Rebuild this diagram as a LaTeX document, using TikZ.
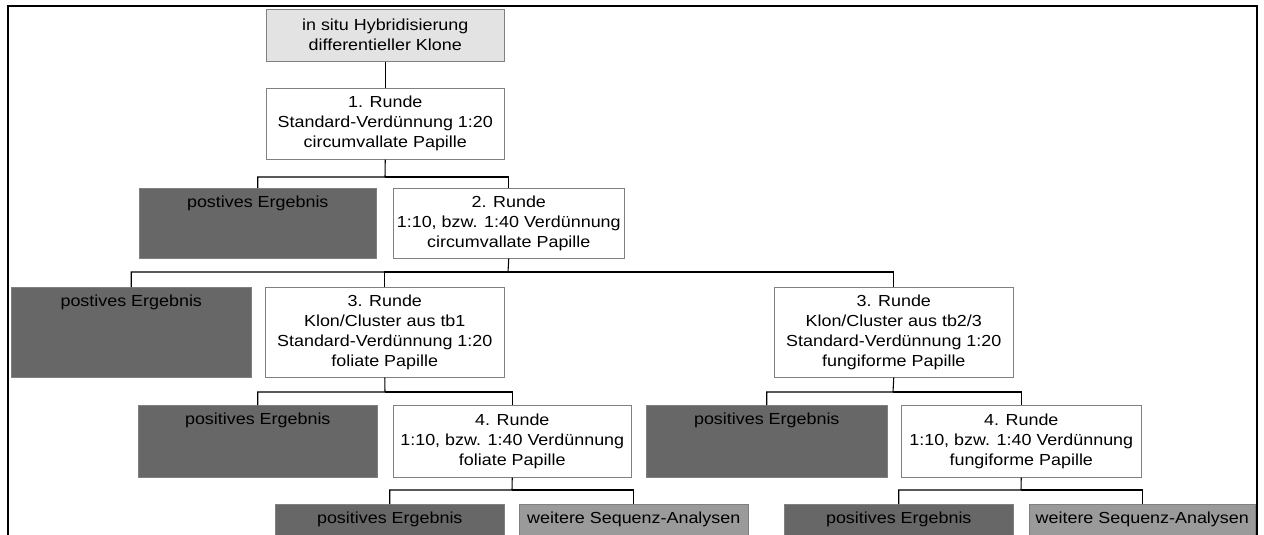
\documentclass[tikz,border=0pt]{standalone}
\usepackage{fontspec}
\newfontfamily\boxfont{Liberation Sans}[FakeStretch=1.12]
\usepackage{tikz}
\definecolor{rim}{HTML}{808080}
\definecolor{startgray}{HTML}{E3E3E3}
\definecolor{posgray}{HTML}{676767}
\definecolor{seqgray}{HTML}{9A9A9A}
\tikzset{
  box/.style={draw=rim,fill=white,anchor=north west,inner xsep=0pt,inner ysep=0pt,align=center,
    font=\boxfont\fontsize{12}{15}\selectfont},
  roundbox/.style={box},
  startbox/.style={box,fill=startgray},
  posbox/.style={box,fill=posgray,text height=14.5pt},
  seqbox/.style={box,fill=seqgray,text height=14.5pt},
  link/.style={draw=black,line width=0.8pt}
}

\begin{document}
\begin{tikzpicture}[x=0.75pt,y=-0.75pt]
        \clip (0,0) rectangle (1264,535);
        \useasboundingbox (0,0) rectangle (1264,535);
        \draw[line width=1.6pt] (8,560) -- (8,6) -- (1257,6) -- (1257,560);

        \node[startbox,minimum width=178.5pt,minimum height=39pt] (start) at (266,9) {in situ Hybridisierung\\differentieller Klone};
        \node[roundbox,minimum width=178.5pt,minimum height=53.25pt] (r1) at (266,88) {1. Runde\\Standard-Verdünnung 1:20\\circumvallate Papille};

        \node[posbox,minimum width=177.75pt,text depth=38pt] (pos1) at (139,188) {postives Ergebnis};
        \node[roundbox,minimum width=173.25pt,minimum height=52.5pt] (r2) at (393,188) {2. Runde\\1:10, bzw. 1:40 Verdünnung\\circumvallate Papille};

        \node[posbox,minimum width=180pt,text depth=53pt] (pos2) at (11,287) {postives Ergebnis};
        \node[roundbox,minimum width=179.25pt,minimum height=67.5pt] (r3a) at (265,287) {3. Runde\\Klon/Cluster aus tb1\\Standard-Verdünnung 1:20\\foliate Papille};
        \node[roundbox,minimum width=179.25pt,minimum height=67.5pt] (r3b) at (774,287) {3. Runde\\Klon/Cluster aus tb2/3\\Standard-Verdünnung 1:20\\fungiforme Papille};

        \node[posbox,minimum width=179.25pt,text depth=39.5pt] (pos3) at (138,405) {positives Ergebnis};
        \node[roundbox,minimum width=178.5pt,minimum height=54pt] (r4a) at (393,405) {4. Runde\\1:10, bzw. 1:40 Verdünnung\\foliate Papille};
        \node[posbox,minimum width=180.75pt,text depth=39.5pt] (pos4) at (646,405) {positives Ergebnis};
        \node[roundbox,minimum width=180pt,minimum height=54pt] (r4b) at (901,405) {4. Runde\\1:10, bzw. 1:40 Verdünnung\\fungiforme Papille};

        \node[posbox,minimum width=171.75pt,text depth=15.5pt] (pos5) at (275,504) {positives Ergebnis};
        \node[seqbox,minimum width=171.75pt,text depth=15.5pt] (seq1) at (519,504) {weitere Sequenz-Analysen};
        \node[posbox,minimum width=171.75pt,text depth=15.5pt] (pos6) at (784,504) {positives Ergebnis};
        \node[seqbox,minimum width=169.5pt,text depth=15.5pt] (seq2) at (1029,504) {weitere Sequenz-Analysen};

        % branch points
        \coordinate (b1) at (385,177);
        \coordinate (b2) at (508,272);
        \coordinate (b3a) at (385,392);
        \coordinate (b3b) at (893,392);
        \coordinate (b4a) at (512,490);
        \coordinate (b4b) at (1021,490);

        \draw[link] (start.south) -- (r1.north);
        \draw[link] (r1.south) -- (b1) -| (pos1.north);
        \draw[link] (b1) -| (r2.north);
        \draw[link] (r2.south) -- (b2) -| (pos2.north);
        \draw[link] (b2) -| (r3a.north);
        \draw[link] (b2) -| (r3b.north);
        \draw[link] (r3a.south) -- (b3a) -| (pos3.north);
        \draw[link] (b3a) -| (r4a.north);
        \draw[link] (r3b.south) -- (b3b) -| (pos4.north);
        \draw[link] (b3b) -| (r4b.north);
        \draw[link] (r4a.south) -- (b4a) -| (pos5.north);
        \draw[link] (b4a) -| (seq1.north);
        \draw[link] (r4b.south) -- (b4b) -| (pos6.north);
        \draw[link] (b4b) -| (seq2.north);
\end{tikzpicture}
\end{document}
